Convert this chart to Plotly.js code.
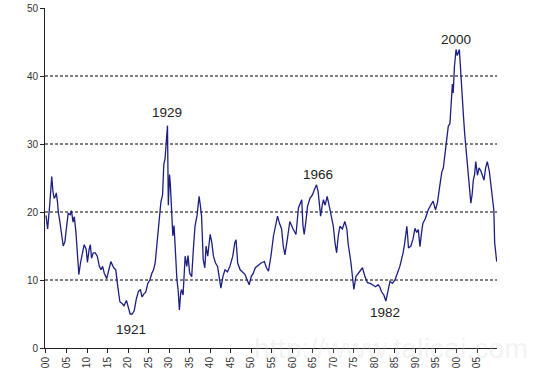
<!DOCTYPE html>
<html>
<head>
<meta charset="utf-8">
<script src="https://cdn.plot.ly/plotly-3.0.1.min.js"></script>
<style>html,body{margin:0;padding:0;background:#fff;}#chart{width:541px;height:374px;}</style>
</head>
<body>
<div id="chart"></div>
<script>
const years = [
1900.0,1900.4,1900.9,1901.2,1901.4,1901.7,1902.0,1902.3,1902.5,1902.8,
1903.0,1903.4,1903.8,1904.2,1904.6,1905.0,1905.4,1905.9,1906.2,1906.6,
1906.9,1907.3,1907.7,1908.0,1908.4,1908.8,1909.3,1909.8,1910.1,1910.5,
1910.8,1911.1,1911.5,1912.0,1912.5,1913.0,1913.4,1913.8,1914.2,1914.8,
1915.3,1915.8,1916.5,1917.0,1917.5,1918.0,1918.6,1919.0,1919.6,1920.0,
1920.5,1921.0,1921.5,1922.0,1922.5,1923.0,1923.4,1923.9,1924.3,1924.8,
1925.3,1925.8,1926.2,1926.6,1927.0,1927.5,1928.0,1928.4,1928.7,1929.0,
1929.3,1929.6,1929.8,1930.1,1930.3,1930.6,1930.9,1931.2,1931.5,1931.9,
1932.2,1932.5,1932.8,1933.0,1933.4,1933.9,1934.3,1934.6,1935.0,1935.5,
1935.9,1936.3,1936.8,1937.3,1937.6,1937.9,1938.3,1938.7,1939.0,1939.4,
1940.0,1940.4,1940.8,1941.3,1941.8,1942.3,1942.6,1943.1,1943.6,1944.2,
1944.8,1945.5,1946.0,1946.3,1946.7,1947.3,1947.9,1948.5,1949.0,1949.5,
1950.0,1950.5,1951.0,1951.7,1952.4,1953.2,1953.7,1954.2,1954.8,1955.4,
1955.9,1956.4,1956.9,1957.4,1957.8,1958.2,1958.8,1959.4,1960.2,1960.9,
1961.5,1962.0,1962.3,1962.6,1962.9,1963.3,1963.7,1964.3,1964.9,1965.4,
1965.9,1966.3,1966.9,1967.3,1967.6,1968.0,1968.5,1969.2,1970.0,1970.4,
1970.8,1971.2,1971.6,1972.2,1972.8,1973.3,1973.6,1974.3,1974.7,1975.0,
1975.5,1976.1,1976.6,1977.1,1977.7,1978.3,1979.0,1979.7,1980.3,1980.9,
1981.3,1981.7,1982.3,1982.8,1983.3,1983.8,1984.4,1985.0,1985.6,1986.2,
1986.6,1987.0,1987.4,1987.9,1988.1,1988.3,1988.9,1989.4,1989.9,1990.3,
1990.7,1991.1,1991.5,1991.8,1992.4,1993.1,1993.7,1994.3,1994.9,1995.4,
1995.8,1996.4,1996.8,1997.2,1997.6,1998.0,1998.4,1998.7,1999.0,1999.2,
1999.5,1999.9,2000.2,2000.7,2001.0,2001.4,2001.7,2002.0,2002.2,2002.6,
2003.1,2003.5,2003.8,2004.1,2004.4,2004.7,2005.1,2005.5,2005.9,2006.3,
2006.7,2007.1,2007.5,2008.0,2008.6,2009.1,2009.3,2009.8
];
const peValues = [
19.5,17.5,21.0,23.5,25.2,23.0,22.0,22.3,22.8,21.5,
20.0,18.5,16.4,15.0,15.6,17.5,19.8,19.6,20.2,18.5,
19.3,17.0,14.0,10.8,12.5,14.0,15.2,14.5,12.6,14.5,
15.2,13.2,14.0,14.0,13.5,12.0,11.5,12.0,11.0,10.2,
11.5,12.7,11.8,11.5,9.0,6.8,6.5,6.2,7.0,6.0,
5.0,5.0,5.5,7.2,8.3,8.6,7.5,8.0,8.2,9.5,
10.0,11.0,11.5,12.5,15.0,18.0,21.5,22.5,27.0,27.8,
31.0,32.7,21.0,25.5,24.0,20.0,16.5,18.0,14.0,10.0,
8.5,5.6,8.0,8.6,7.8,13.5,12.0,13.6,11.0,10.5,
14.5,17.9,19.5,22.3,21.0,19.4,13.0,11.8,15.0,13.5,
16.7,15.5,13.5,12.5,12.0,10.0,8.8,10.5,11.5,11.2,
12.0,13.5,15.5,15.9,12.5,11.5,11.2,10.8,10.0,9.3,
10.5,11.0,11.8,12.2,12.5,12.7,11.8,11.3,13.5,16.4,
18.0,19.4,18.3,17.5,15.0,13.7,16.0,18.6,17.5,16.7,
20.6,21.5,21.8,18.0,16.7,18.5,20.8,22.0,22.5,23.3,
24.0,23.0,19.4,21.0,21.8,21.0,22.3,20.3,17.9,15.5,
14.0,16.5,17.9,17.5,18.6,17.5,15.4,12.5,10.5,8.6,
10.5,11.0,11.5,11.8,10.5,9.6,9.5,9.2,9.0,9.3,
9.0,8.3,7.8,6.9,8.5,9.8,9.5,10.0,11.0,12.0,
13.0,14.0,15.5,17.9,16.5,14.7,15.0,16.0,17.6,17.0,
17.4,14.9,17.0,18.3,19.0,20.3,21.0,21.6,20.3,21.5,
23.3,25.8,26.5,28.7,30.5,32.6,33.0,37.0,38.8,37.5,
41.4,43.9,43.0,43.9,40.4,37.0,34.1,31.5,30.1,27.6,
23.3,21.3,22.5,24.7,25.5,27.4,25.4,26.5,26.1,25.5,
24.7,26.5,27.4,26.0,23.3,20.3,15.5,12.7
];
const tickYears = [1900,1905,1910,1915,1920,1925,1930,1935,1940,1945,1950,1955,1960,1965,1970,1975,1980,1985,1990,1995,2000,2005];
const tickLabels = ["00","05","10","15","20","25","30","35","40","45","50","55","60","65","70","75","80","85","90","95","00","05"];
const yTicks = [0,10,20,30,40,50];
const gridVals = [10,20,30,40];
const peakLabels = ["1929","1921","1966","1982","2000"];
const peakX = [1929.5,1920.8,1966.2,1982.5,1999.8];
const peakY = [34.6,2.7,25.5,5.2,45.3];

const font = "Liberation Sans, Arial, sans-serif";
const shapes = gridVals.map(v => ({
  type:'line', xref:'paper', x0:0, x1:1, yref:'y', y0:v, y1:v,
  line:{color:'#000', width:1, dash:'3px,2px'}, layer:'below'
}));
const annotations = peakLabels.map((t,i) => ({
  x: peakX[i], y: peakY[i], xref:'x', yref:'y', text:t, showarrow:false,
  font:{family:font, size:13.5, color:'#222'}
}));
annotations.push({
  xref:'paper', yref:'paper', x:0.766, y:0, xanchor:'center', yanchor:'middle',
  text:'http://www.talicai.com', showarrow:false,
  font:{family:font, size:28.5, color:'rgba(200,200,200,0.22)'}
});

Plotly.newPlot('chart', [{
  x: years, y: peValues, type:'scatter', mode:'lines',
  line:{color:'#1c1f82', width:1.3}, hoverinfo:'skip'
}], {
  width:541, height:374,
  margin:{l:45, r:44, t:8, b:26},
  paper_bgcolor:'#fff', plot_bgcolor:'#fff',
  showlegend:false,
  xaxis:{
    range:[1899.76, 2009.87], tickvals:tickYears, ticktext:tickLabels,
    tickangle:-90, ticks:'outside', ticklen:4, tickcolor:'#222',
    showline:true, linecolor:'#222', linewidth:1, showgrid:false, zeroline:false,
    tickfont:{family:font, size:10, color:'#333'}, automargin:false
  },
  yaxis:{
    range:[0,50], tickvals:yTicks, ticks:'outside', ticklen:4, tickcolor:'#222',
    showline:true, linecolor:'#222', linewidth:1, showgrid:false, zeroline:false,
    tickfont:{family:font, size:10, color:'#333'}, automargin:false
  },
  shapes: shapes,
  annotations: annotations
}, {staticPlot:true});
</script>
</body>
</html>
